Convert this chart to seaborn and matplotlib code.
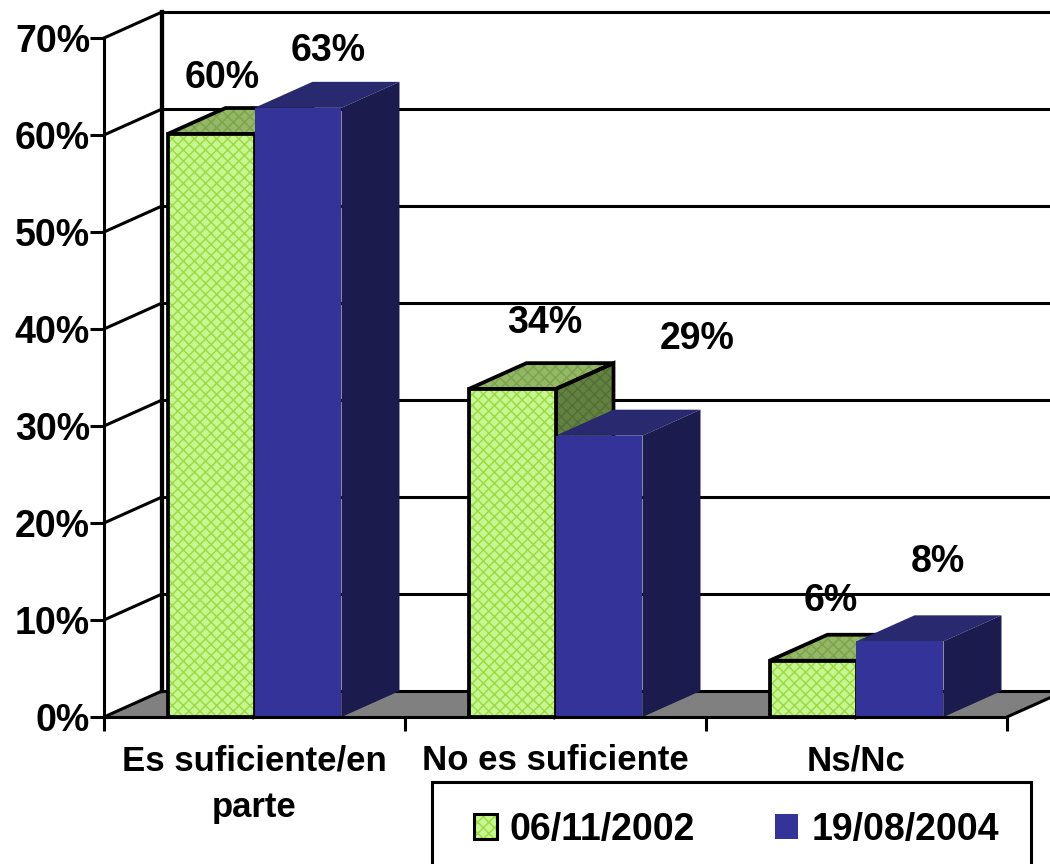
import matplotlib
matplotlib.use('Agg')
import matplotlib.pyplot as plt
from matplotlib.legend_handler import HandlerTuple
from matplotlib.patches import Patch, Polygon, Rectangle
import pandas as pd
import seaborn as sns

# Values
categorias = ['Es suficiente/en\nparte', 'No es suficiente', 'Ns/Nc']
fechas = ['06/11/2002', '19/08/2004']
valores_2002 = [60.1, 33.8, 5.8]
valores_2004 = [62.8, 29.0, 7.8]
ticks_y = [0, 10, 20, 30, 40, 50, 60, 70]

df = pd.DataFrame({
    'categoria': categorias * 2,
    'fecha': [fechas[0]] * 3 + [fechas[1]] * 3,
    'valor': valores_2002 + valores_2004,
})

sns.set_style('white')
plt.rcParams['font.family'] = ['Liberation Sans', 'DejaVu Sans']
plt.rcParams['font.weight'] = 'bold'
plt.rcParams['hatch.linewidth'] = 1.1

W, H = 1050, 864
LW = 2.2
LW_BARRA = 2.7
TRAMA = 'xxx'
VERDE, VERDE_TRAMA = '#c6f892', '#a0d945'
TOP_V, TOP_V_TRAMA = '#93b866', '#7fa34c'
SIDE_V, SIDE_V_TRAMA = '#64823f', '#536f38'
AZUL, TOP_A, SIDE_A = '#333399', '#29296f', '#1b1b4d'

fig = plt.figure(figsize=(W / 100, H / 100), dpi=100)
ax = fig.add_axes([104 / W, 1 - 717 / H, 903 / W, 679 / H])

sns.barplot(data=df, x='categoria', y='valor', hue='fecha', hue_order=fechas,
            palette=[VERDE, AZUL], width=0.578, gap=0, dodge=True,
            saturation=1, legend=False, ax=ax)

ax.set_xlim(-0.5, 2.5)
ax.set_ylim(0, 70)
ax.set_xlabel('')
ax.set_ylabel('')

# 3D depth of the chart, in data units
dx = 58 / 301
dy = 26 / (679 / 70)
x_fin = -0.5 + (1050 - 104) / 301
x_izq = -0.5
x_der = 2.5


def linea(xs, ys, z=2, lw=LW):
    ax.plot(xs, ys, color='black', lw=lw, zorder=z, clip_on=False,
            solid_capstyle='projecting')


# floor
ax.add_patch(Polygon([(x_izq, 0), (x_izq + dx, dy), (x_fin, dy),
                      (x_fin, dy * 43 / 58), (x_der, 0)],
                     facecolor='#808080', edgecolor='none', zorder=1, clip_on=False))
linea([x_der, x_fin], [0, dy * 43 / 58], z=2)

# back wall and side wall
for t in ticks_y:
    linea([x_izq + dx, x_fin], [t + dy, t + dy])
    linea([x_izq, x_izq + dx], [t, t + dy])
linea([x_izq + dx, x_izq + dx], [dy, 70 + dy], lw=LW * 1.4)

# bars: front faces come from seaborn, depth faces follow them
for n, cont in enumerate(ax.containers):
    for bar in cont:
        x0, w, h = bar.get_x(), bar.get_width(), bar.get_height()
        x1 = x0 + w
        top = [(x0, h), (x0 + dx, h + dy), (x1 + dx, h + dy), (x1, h)]
        side = [(x1, 0), (x1 + dx, dy), (x1 + dx, h + dy), (x1, h)]
        if n == 0:
            bar.set_edgecolor(VERDE_TRAMA)
            bar.set_hatch(TRAMA)
            bar.set_linewidth(0)
            bar.set_zorder(5)
            ax.add_patch(Polygon(top, facecolor=TOP_V, edgecolor=TOP_V_TRAMA,
                                 hatch=TRAMA, lw=0, zorder=3, clip_on=False))
            ax.add_patch(Polygon(side, facecolor=SIDE_V, edgecolor=SIDE_V_TRAMA,
                                 hatch=TRAMA, lw=0, zorder=3, clip_on=False))
            for cara in (top, side):
                ax.add_patch(Polygon(cara, fill=False, edgecolor='black', lw=LW_BARRA,
                                     zorder=3.1, clip_on=False))
            ax.add_patch(Rectangle((x0, 0), w, h, fill=False, edgecolor='black',
                                   lw=LW_BARRA, zorder=5.1, clip_on=False))
        else:
            bar.set_edgecolor('none')
            bar.set_zorder(6)
            ax.add_patch(Polygon(top, facecolor=TOP_A, edgecolor='none',
                                 zorder=4, clip_on=False))
            ax.add_patch(Polygon(side, facecolor=SIDE_A, edgecolor='none',
                                 zorder=4, clip_on=False))

# data labels, each one placed by hand like in the original
offsets = [[(11, 56), (33, 66), (18, 60)], [(30, 57), (98, 97), (38, 79)]]
for n, cont in enumerate(ax.containers):
    for bar, off in zip(cont, offsets[n]):
        ax.annotate(f'{bar.get_height():.0f}%',
                    (bar.get_x() + bar.get_width() / 2, bar.get_height()),
                    xytext=off, textcoords='offset pixels', ha='center', va='center',
                    fontsize=27, fontweight='bold', color='black', zorder=8,
                    annotation_clip=False)

# axes
for s in ('top', 'right'):
    ax.spines[s].set_visible(False)
for s in ('left', 'bottom'):
    ax.spines[s].set_linewidth(LW)
    ax.spines[s].set_color('black')
    ax.spines[s].set_zorder(7)
ax.patch.set_alpha(0)
ax.set_yticks(ticks_y, [f'{t}%' for t in ticks_y])
ax.tick_params(axis='y', length=10, width=LW, pad=0, labelsize=27, left=True, color='black')
ax.set_xticks([-0.5, 0.5, 1.5, 2.5], minor=True)
ax.tick_params(axis='x', which='minor', length=10, width=LW, bottom=True, color='black')
ax.tick_params(axis='x', which='major', length=0, pad=19.5, labelsize=25)
for lab in ax.get_xticklabels() + ax.get_yticklabels():
    lab.set_fontweight('bold')
    lab.set_color('black')
for lab in ax.get_xticklabels():
    lab.set_linespacing(1.55)

# legend box runs off the bottom of the picture
caja = Rectangle((432 / W, -0.02), 599 / W, 1 - 782 / H + 0.02, transform=fig.transFigure,
                 facecolor='white', edgecolor='black', lw=LW, zorder=8)
fig.add_artist(caja)
h_verde = (Patch(facecolor=VERDE, edgecolor=VERDE_TRAMA, hatch=TRAMA, lw=0),
           Patch(fill=False, edgecolor='black', lw=LW))
h_azul = Patch(facecolor=AZUL, edgecolor='none')
leg = fig.legend([h_verde, h_azul], fechas, ncols=2, loc='upper left',
                 bbox_to_anchor=(474 / W, 1 - 812 / H), bbox_transform=fig.transFigure,
                 handler_map={tuple: HandlerTuple()},
                 prop={'family': ['Liberation Sans'], 'weight': 'bold', 'size': 27},
                 frameon=False, borderaxespad=0, borderpad=0, labelcolor='black',
                 handlelength=0.61, handleheight=0.64, handletextpad=0.35,
                 columnspacing=2.13)
leg.set_zorder(9)

fig.savefig('out.png', dpi=100, facecolor='white')
